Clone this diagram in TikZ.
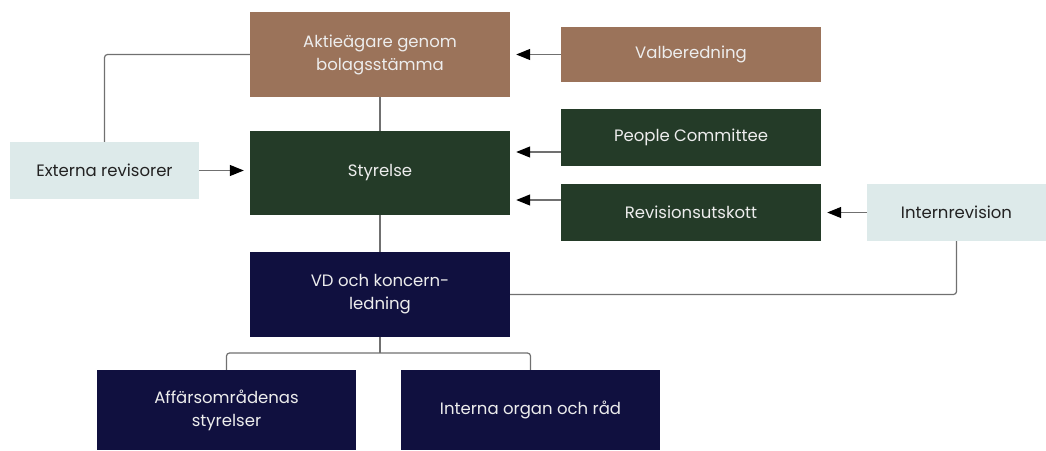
\documentclass[tikz,border=0pt]{standalone}
\usepackage{fontspec}
\setmainfont{Poppins}
\usetikzlibrary{arrows.meta}
\definecolor{cbrown}{HTML}{9B735A}
\definecolor{cgreen}{HTML}{243B28}
\definecolor{cnavy}{HTML}{10103F}
\definecolor{clight}{HTML}{DDEAEA}
\definecolor{cline}{HTML}{707070}
\definecolor{ctext}{HTML}{222222}
\begin{document}
\begin{tikzpicture}[x=1pt,y=-1pt,
  box/.style={rectangle, inner sep=0pt, minimum width=260pt, align=center,
     font=\fontsize{16.5}{23}\selectfont, text=white!93!black},
  brownbox/.style={box, fill=cbrown},
  greenbox/.style={box, fill=cgreen},
  navybox/.style={box, fill=cnavy},
  lightbox/.style={box, fill=clight, text=ctext},
  conn/.style={draw=cline, line width=1.2pt, rounded corners=3pt},
  arr/.style={conn, -{Triangle[length=14pt,width=11pt,color=black]}, shorten >=6pt}]
\useasboundingbox (0,0) rectangle (1046,450);
\node[brownbox, minimum height=85pt] (akt) at (380,54.5) {Aktieägare genom\\bolagsstämma};
\node[brownbox, minimum height=55pt] (val) at (691,54.5) {Valberedning};
\node[greenbox, minimum height=84pt] (sty) at (380,173) {Styrelse};
\node[greenbox, minimum height=57pt] (ppl) at (691,137.5) {People Committee};
\node[greenbox, minimum height=57pt] (rev) at (691,212.5) {Revisionsutskott};
\node[lightbox, minimum width=189pt, minimum height=57pt] (ext) at (104.5,170.5) {Externa revisorer};
\node[lightbox, minimum width=179pt, minimum height=57pt] (int) at (956.5,212.5) {Internrevision};
\node[navybox, minimum height=85pt] (vd) at (380,294.5) {VD och koncern-\\ledning};
\node[navybox, minimum width=259pt, minimum height=80pt] (aff) at (226.5,410) {Affärsområdenas\\styrelser};
\node[navybox, minimum width=259pt, minimum height=80pt] (org) at (530.5,410) {Interna organ och råd};
\coordinate (pp) at (561,152);
\coordinate (rp) at (561,200);
\coordinate (br) at (380,353);
\draw[conn] (akt.south) -- (sty.north);
\draw[conn] (sty.south) -- (vd.north);
\draw[conn] (ext.north) |- (akt.west);
\draw[arr] (ext.east) -- (ext.east -| sty.west);
\draw[arr] (val.west) -- (akt.east);
\draw[arr] (pp) -- (pp -| sty.east);
\draw[arr] (rp) -- (rp -| sty.east);
\draw[arr] (int.west) -- (rev.east);
\draw[conn] (int.south) |- (vd.east);
\draw[conn] (vd.south) -- (br);
\draw[conn] (aff.north) |- (br) -| (org.north);
\end{tikzpicture}
\end{document}
